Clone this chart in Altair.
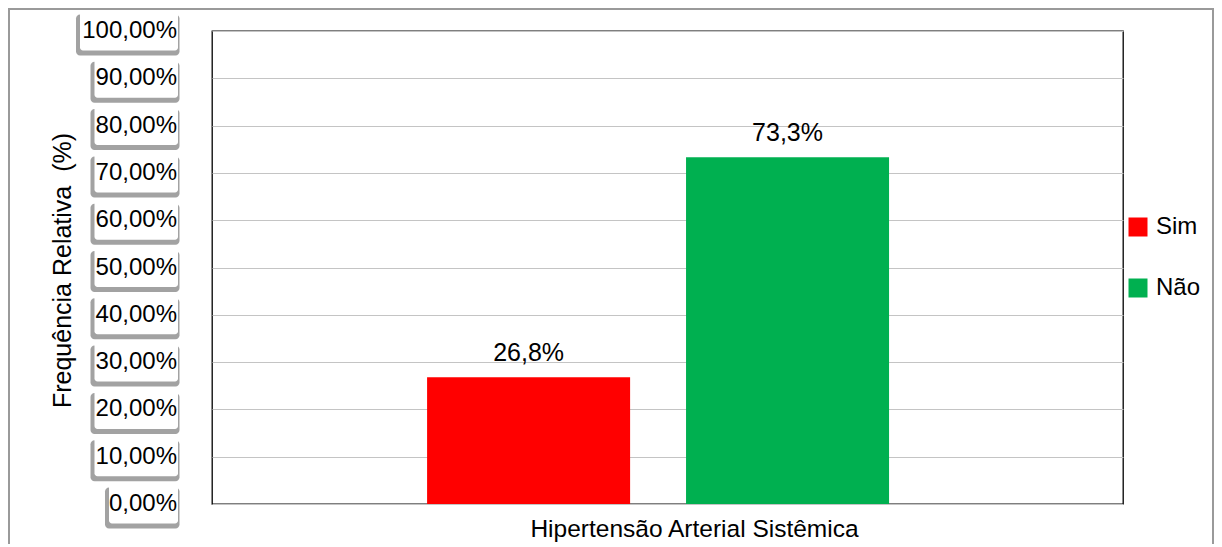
import altair as alt
import pandas as pd

# ---- data ----
categories = ["Sim", "Não"]
values = [26.8, 73.3]
colors = ["#ff0000", "#00b050"]
tick_values = [0, 10, 20, 30, 40, 50, 60, 70, 80, 90, 100]
tick_labels = [f"{t:.2f}%".replace(".", ",") for t in tick_values]
bar_labels = [f"{v:.1f}%".replace(".", ",") for v in values]
x_title = "Hipertensão Arterial Sistêmica"
y_title = "Frequência Relativa \u00a0(%)"

W, H = 911, 473
FONT = "Liberation Sans"
pu = 100.0 / H  # data units per pixel

bars_df = pd.DataFrame({"cat": categories, "val": values, "lab": bar_labels})

BOX_R = -34
ticks_df = pd.DataFrame({"t": tick_values, "lab": tick_labels})
ticks_df["x1"] = BOX_R - (14.5 * ticks_df["lab"].str.len() - 3.5)
ticks_df["x2"] = BOX_R
ticks_df["y1"] = ticks_df["t"] - 19.5 * pu
ticks_df["y2"] = ticks_df["t"] + 19.5 * pu
ticks_df["sx1"] = ticks_df["x1"] - 4
ticks_df["sx2"] = ticks_df["x2"] + 1.5
ticks_df["sy1"] = ticks_df["y1"] - 5 * pu
ticks_df["sy2"] = ticks_df["y2"] - 3 * pu

def yscale():
    return alt.Scale(domain=[0, 100], nice=False, zero=True)

def xscale():
    return alt.Scale(type="band", domain=categories, paddingInner=0.216,
                     paddingOuter=0.867, align=0.479)

one = pd.DataFrame({"a": [0]})

frame = alt.Chart(one).mark_rect(fillOpacity=0, stroke="#9a9a9a", strokeWidth=2).encode(
    x=alt.value(-203), x2=alt.value(1001), y=alt.value(-22), y2=alt.value(H + 80)
)

bars = alt.Chart(bars_df).mark_bar().encode(
    x=alt.X("cat:N", scale=xscale(), sort=categories,
            axis=alt.Axis(labels=False, ticks=False, domain=False, grid=False,
                          title=x_title, titleFont=FONT, titleFontSize=24.5,
                          titleFontWeight="normal", titleColor="black",
                          titleX=482, titleY=32, titleBaseline="alphabetic",
                          titleAlign="center")),
    y=alt.Y("val:Q", scale=yscale(),
            axis=alt.Axis(values=tick_values, labels=False, ticks=False, domain=False,
                          grid=True, gridColor="#c4c4c4", gridWidth=1.2,
                          title=y_title, titleFont=FONT, titleFontSize=25,
                          titleFontWeight="normal", titleColor="black",
                          titleX=-150, titleY=239, titleAngle=270,
                          titleAlign="center", titleBaseline="middle")),
    color=alt.Color("cat:N", scale=alt.Scale(domain=categories, range=colors),
                    legend=alt.Legend(title=None, orient="none", legendX=914, legendY=184,
                                      symbolType="square", symbolSize=361,
                                      symbolStrokeWidth=0, symbolOpacity=1,
                                      labelFont=FONT, labelFontSize=24, labelColor="black",
                                      labelExpr="indexof(datum.label, 'Sim') >= 0 ? '\u2002Sim' : datum.label",
                                      rowPadding=37, labelOffset=6)),
)

bar_text = alt.Chart(bars_df).mark_text(
    dy=-16, baseline="alphabetic", font=FONT, fontSize=25, color="black"
).encode(
    x=alt.X("cat:N", scale=xscale(), sort=categories, axis=None, bandPosition=0.5),
    y=alt.Y("val:Q", scale=yscale(), axis=None),
    text="lab:N",
)

shadow = alt.Chart(ticks_df).mark_rect(fill="#7a7a7a", opacity=0.7, cornerRadius=4).encode(
    x=alt.X("sx1:Q", scale=None, axis=None),
    x2="sx2:Q",
    y=alt.Y("sy1:Q", scale=yscale(), axis=None),
    y2="sy2:Q",
)

box = alt.Chart(ticks_df).mark_rect(fill="white", cornerRadius=3).encode(
    x=alt.X("x1:Q", scale=None, axis=None),
    x2="x2:Q",
    y=alt.Y("y1:Q", scale=yscale(), axis=None),
    y2="y2:Q",
)

box_text = alt.Chart(ticks_df).mark_text(
    align="right", baseline="middle", font=FONT, fontSize=24, color="black"
).encode(
    x=alt.value(-35),
    y=alt.Y("t:Q", scale=yscale(), axis=None),
    text="lab:N",
)

chart = alt.layer(frame, bars, bar_text, shadow, box, box_text).resolve_scale(
    x="independent", y="independent"
).resolve_axis(x="independent", y="independent").properties(
    width=W, height=H,
    background="white",
    autosize=alt.AutoSizeParams(type="none"),
    padding={"left": 204, "top": 23, "right": 91, "bottom": 40},
).configure_view(stroke="black", strokeWidth=1.3)

chart.save("out.html", embed_options={"renderer": "svg", "actions": False})
